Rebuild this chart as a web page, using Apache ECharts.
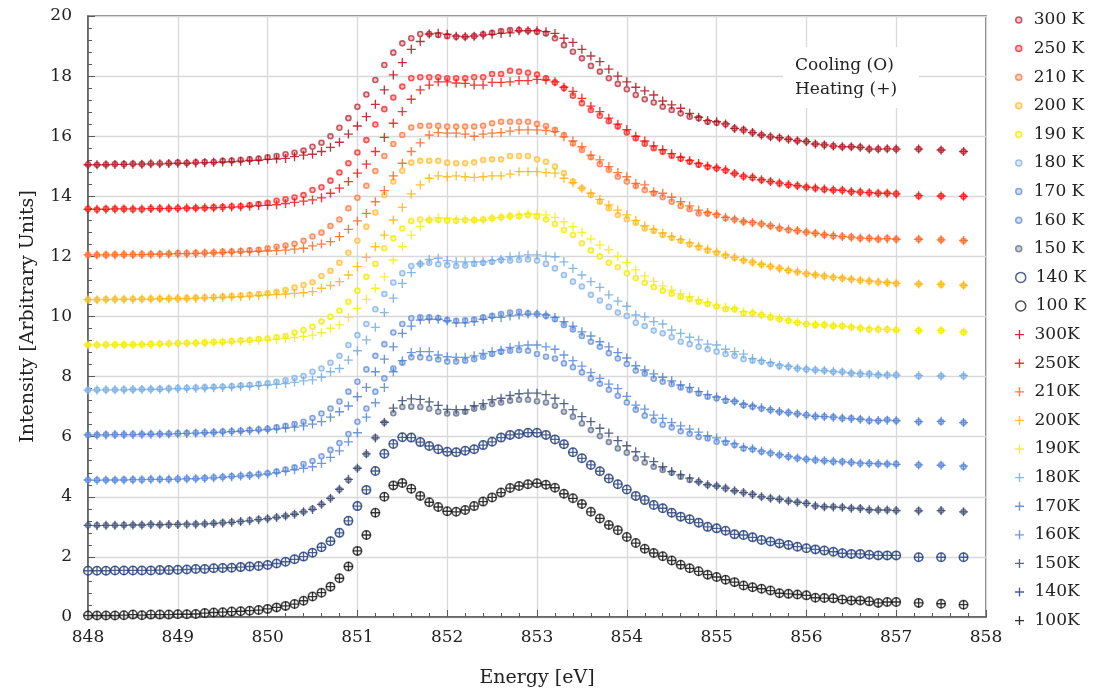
<!DOCTYPE html>
<html>
<head>
<meta charset="utf-8">
<script src="https://cdn.jsdelivr.net/npm/echarts@6/dist/echarts.min.js"></script>
<style>
  html, body { margin: 0; padding: 0; background: #ffffff; }
  #chart { width: 1103px; height: 696px; }
</style>
</head>
<body>
<div id="chart"></div>
<script>
// Photon energy of every measured point [eV]
const energy = [
  848.0,848.1,848.2,848.3,848.4,848.5,848.6,848.7,848.8,848.9,
  849.0,849.1,849.2,849.3,849.4,849.5,849.6,849.7,849.8,849.9,
  850.0,850.1,850.2,850.3,850.4,850.5,850.6,850.7,850.8,850.9,
  851.0,851.1,851.2,851.3,851.4,851.5,851.6,851.7,851.8,851.9,
  852.0,852.1,852.2,852.3,852.4,852.5,852.6,852.7,852.8,852.9,
  853.0,853.1,853.2,853.3,853.4,853.5,853.6,853.7,853.8,853.9,
  854.0,854.1,854.2,854.3,854.4,854.5,854.6,854.7,854.8,854.9,
  855.0,855.1,855.2,855.3,855.4,855.5,855.6,855.7,855.8,855.9,
  856.0,856.1,856.2,856.3,856.4,856.5,856.6,856.7,856.8,856.9,
  857.0,857.25,857.5,857.75
];

// Cooling run (spectra stacked with a 1.5 offset per temperature)
const cool300 = [
  15.06,15.05,15.06,15.07,15.07,15.08,15.07,15.09,15.09,15.10,
  15.12,15.11,15.13,15.14,15.14,15.18,15.19,15.21,15.23,15.26,
  15.30,15.34,15.40,15.45,15.52,15.65,15.78,16.00,16.28,16.60,
  16.98,17.39,17.87,18.37,18.78,19.09,19.26,19.40,19.40,19.37,
  19.33,19.31,19.31,19.33,19.39,19.44,19.50,19.53,19.53,19.51,
  19.48,19.42,19.26,19.03,18.81,18.59,18.34,18.15,17.93,17.74,
  17.56,17.37,17.23,17.12,16.98,16.87,16.76,16.65,16.60,16.48,
  16.45,16.40,16.26,16.21,16.12,16.04,15.98,15.95,15.90,15.85,
  15.82,15.74,15.71,15.67,15.65,15.65,15.63,15.57,15.57,15.58,
  15.57,15.57,15.54,15.49];
const cool250 = [
  13.58,13.56,13.58,13.58,13.58,13.57,13.57,13.59,13.59,13.59,
  13.60,13.60,13.61,13.61,13.63,13.64,13.66,13.67,13.70,13.74,
  13.78,13.85,13.90,13.96,14.04,14.21,14.30,14.52,14.79,15.10,
  15.46,15.87,16.39,16.90,17.29,17.65,17.93,17.96,17.96,17.96,
  17.93,17.93,17.93,17.96,17.96,18.07,18.07,18.18,18.15,18.11,
  18.05,17.93,17.79,17.60,17.35,17.10,16.87,16.68,16.50,16.32,
  16.12,15.93,15.75,15.60,15.48,15.35,15.25,15.15,15.05,14.98,
  14.93,14.86,14.76,14.66,14.62,14.54,14.49,14.43,14.38,14.35,
  14.30,14.27,14.23,14.21,14.20,14.15,14.14,14.12,14.10,14.10,
  14.08,14.01,14.01,13.99];
const cool210 = [
  12.05,12.05,12.05,12.06,12.06,12.06,12.07,12.07,12.08,12.09,
  12.10,12.10,12.11,12.12,12.13,12.15,12.16,12.18,12.20,12.22,
  12.27,12.32,12.36,12.42,12.52,12.66,12.79,13.01,13.23,13.60,
  13.95,14.35,14.84,15.34,15.74,16.04,16.29,16.35,16.35,16.35,
  16.32,16.32,16.32,16.32,16.35,16.43,16.48,16.48,16.48,16.48,
  16.41,16.34,16.21,16.04,15.76,15.54,15.30,15.07,14.88,14.65,
  14.49,14.34,14.21,14.10,13.97,13.82,13.68,13.57,13.43,13.43,
  13.38,13.27,13.23,13.15,13.12,13.08,13.01,12.93,12.88,12.85,
  12.80,12.77,12.71,12.68,12.66,12.64,12.60,12.60,12.57,12.60,
  12.57,12.57,12.55,12.52];
const cool200 = [
  10.56,10.56,10.57,10.57,10.57,10.58,10.58,10.59,10.59,10.60,
  10.60,10.61,10.62,10.63,10.64,10.66,10.68,10.70,10.72,10.75,
  10.77,10.82,10.88,10.96,11.05,11.14,11.35,11.52,11.79,12.12,
  12.52,12.99,13.46,14.04,14.49,14.85,15.12,15.18,15.18,15.18,
  15.12,15.10,15.10,15.13,15.21,15.23,15.23,15.34,15.34,15.34,
  15.23,15.15,14.99,14.77,14.49,14.27,14.04,13.82,13.60,13.38,
  13.24,13.12,12.93,12.85,12.71,12.62,12.52,12.40,12.30,12.20,
  12.12,12.02,11.95,11.86,11.80,11.72,11.66,11.60,11.53,11.48,
  11.42,11.38,11.34,11.30,11.27,11.24,11.20,11.17,11.14,11.12,
  11.10,11.08,11.06,11.03];
const cool190 = [
  9.05,9.05,9.06,9.06,9.06,9.07,9.07,9.08,9.09,9.10,
  9.11,9.12,9.12,9.13,9.15,9.16,9.18,9.20,9.22,9.25,
  9.27,9.31,9.35,9.46,9.55,9.66,9.83,9.99,10.19,10.49,
  10.86,11.32,11.75,12.27,12.60,12.93,13.18,13.23,13.21,13.21,
  13.19,13.19,13.21,13.21,13.23,13.27,13.30,13.34,13.34,13.38,
  13.32,13.23,13.08,12.88,12.71,12.44,12.20,12.00,11.79,11.64,
  11.44,11.28,11.12,10.98,10.86,10.76,10.66,10.57,10.49,10.42,
  10.33,10.24,10.24,10.11,10.11,10.05,9.97,9.91,9.86,9.79,
  9.75,9.72,9.72,9.68,9.68,9.64,9.61,9.57,9.57,9.57,
  9.55,9.53,9.53,9.48];
const cool180 = [
  7.55,7.56,7.56,7.56,7.57,7.57,7.58,7.58,7.59,7.60,
  7.61,7.62,7.63,7.64,7.65,7.66,7.68,7.70,7.72,7.75,
  7.78,7.83,7.88,7.95,8.02,8.16,8.27,8.46,8.69,9.05,
  9.38,9.75,10.24,10.75,11.13,11.44,11.68,11.75,11.79,11.74,
  11.71,11.68,11.70,11.75,11.79,11.82,11.88,11.86,11.88,11.90,
  11.86,11.75,11.60,11.38,11.16,11.00,10.72,10.53,10.32,10.13,
  10.02,9.79,9.68,9.53,9.44,9.31,9.16,9.08,8.99,8.91,
  8.83,8.75,8.69,8.58,8.53,8.50,8.42,8.35,8.33,8.27,
  8.24,8.22,8.20,8.16,8.16,8.11,8.09,8.09,8.05,8.05,
  8.05,8.02,8.02,8.02];
const cool170 = [
  6.06,6.06,6.07,6.07,6.07,6.08,6.08,6.09,6.09,6.10,
  6.11,6.12,6.13,6.14,6.15,6.17,6.18,6.20,6.22,6.24,
  6.26,6.31,6.36,6.42,6.50,6.62,6.77,6.94,7.17,7.50,
  7.83,8.24,8.69,9.08,9.47,9.75,9.94,9.97,9.97,9.95,
  9.88,9.86,9.87,9.90,9.97,10.02,10.08,10.13,10.16,10.11,
  10.08,10.02,9.91,9.72,9.57,9.35,9.16,8.99,8.78,8.60,
  8.42,8.20,8.10,7.93,7.83,7.75,7.64,7.55,7.44,7.33,
  7.28,7.20,7.17,7.05,7.00,6.94,6.89,6.83,6.80,6.76,
  6.72,6.67,6.67,6.65,6.61,6.61,6.58,6.53,6.53,6.56,
  6.53,6.50,6.50,6.47];
const cool160 = [
  4.56,4.56,4.56,4.56,4.57,4.57,4.57,4.58,4.58,4.58,
  4.59,4.60,4.61,4.62,4.64,4.66,4.68,4.70,4.72,4.75,
  4.78,4.84,4.91,4.98,5.09,5.19,5.35,5.56,5.79,6.09,
  6.50,6.94,7.50,7.94,8.27,8.46,8.64,8.64,8.61,8.57,
  8.50,8.50,8.53,8.58,8.66,8.75,8.83,8.86,8.88,8.86,
  8.75,8.66,8.60,8.44,8.31,8.14,7.94,7.76,7.56,7.36,
  7.14,6.90,6.70,6.54,6.40,6.31,6.18,6.10,5.99,5.94,
  5.83,5.80,5.72,5.61,5.58,5.50,5.45,5.39,5.33,5.28,
  5.25,5.22,5.20,5.17,5.17,5.14,5.11,5.11,5.09,5.09,
  5.09,5.06,5.06,5.00];
const cool150 = [
  3.05,3.05,3.05,3.05,3.06,3.06,3.06,3.08,3.07,3.07,
  3.08,3.08,3.09,3.10,3.12,3.14,3.16,3.18,3.22,3.25,
  3.28,3.32,3.36,3.43,3.50,3.60,3.75,3.95,4.24,4.56,
  4.95,5.42,5.97,6.47,6.78,6.99,7.00,6.99,6.93,6.83,
  6.77,6.77,6.83,6.93,6.98,7.09,7.14,7.20,7.23,7.23,
  7.18,7.14,7.03,6.83,6.66,6.44,6.22,6.02,5.82,5.61,
  5.47,5.28,5.14,5.00,4.89,4.80,4.67,4.56,4.50,4.39,
  4.36,4.28,4.20,4.14,4.08,4.00,3.95,3.92,3.86,3.82,
  3.78,3.69,3.67,3.67,3.65,3.62,3.62,3.56,3.56,3.56,
  3.54,3.54,3.54,3.50];
const cool140 = [
  1.54,1.54,1.54,1.55,1.55,1.55,1.55,1.55,1.56,1.56,
  1.57,1.58,1.60,1.60,1.62,1.63,1.64,1.66,1.68,1.70,
  1.73,1.78,1.84,1.92,2.01,2.14,2.32,2.52,2.80,3.20,
  3.69,4.23,4.86,5.43,5.76,5.98,5.97,5.82,5.69,5.58,
  5.50,5.48,5.53,5.58,5.72,5.83,5.97,6.06,6.09,6.13,
  6.13,6.06,5.91,5.75,5.48,5.28,5.06,4.85,4.61,4.42,
  4.24,4.03,3.89,3.73,3.62,3.47,3.34,3.25,3.14,3.00,
  2.95,2.87,2.75,2.73,2.65,2.56,2.51,2.45,2.40,2.34,
  2.29,2.25,2.21,2.17,2.12,2.10,2.10,2.07,2.05,2.05,
  2.05,1.99,1.99,1.99];
const cool100 = [
  0.05,0.05,0.05,0.05,0.06,0.08,0.06,0.08,0.08,0.08,
  0.09,0.09,0.10,0.13,0.15,0.16,0.18,0.19,0.21,0.23,
  0.27,0.32,0.37,0.43,0.54,0.68,0.81,1.01,1.29,1.68,
  2.20,2.73,3.47,4.00,4.38,4.46,4.27,4.03,3.82,3.66,
  3.52,3.50,3.56,3.69,3.84,3.98,4.14,4.29,4.36,4.42,
  4.45,4.40,4.30,4.10,3.95,3.76,3.50,3.28,3.06,2.89,
  2.66,2.46,2.27,2.13,2.02,1.88,1.74,1.62,1.52,1.41,
  1.33,1.24,1.16,1.05,0.99,0.94,0.88,0.79,0.77,0.75,
  0.72,0.64,0.63,0.62,0.58,0.55,0.55,0.52,0.47,0.50,
  0.50,0.47,0.44,0.41];

// Heating run
const heat300 = [
  15.05,15.05,15.05,15.06,15.06,15.07,15.07,15.08,15.08,15.09,
  15.10,15.10,15.11,15.12,15.13,15.14,15.15,15.17,15.19,15.20,
  15.23,15.24,15.26,15.32,15.37,15.40,15.49,15.63,15.80,16.07,
  16.34,16.65,17.06,17.54,18.04,18.45,18.89,19.15,19.40,19.43,
  19.39,19.33,19.31,19.33,19.37,19.39,19.42,19.44,19.51,19.51,
  19.51,19.48,19.42,19.26,19.12,18.89,18.67,18.48,18.23,18.00,
  17.81,17.63,17.51,17.37,17.17,17.04,16.93,16.76,16.63,16.52,
  16.48,16.41,16.26,16.21,16.12,16.04,15.98,15.95,15.90,15.85,
  15.82,15.74,15.71,15.67,15.65,15.65,15.63,15.57,15.57,15.58,
  15.57,15.57,15.54,15.49];
const heat250 = [
  13.57,13.57,13.57,13.58,13.58,13.58,13.58,13.59,13.59,13.60,
  13.60,13.61,13.61,13.62,13.62,13.63,13.64,13.65,13.67,13.69,
  13.70,13.72,13.76,13.80,13.84,13.88,13.95,14.10,14.27,14.49,
  14.77,15.07,15.49,15.96,16.43,16.82,17.23,17.54,17.70,17.81,
  17.81,17.77,17.76,17.70,17.70,17.79,17.79,17.81,17.85,17.85,
  17.89,17.87,17.81,17.63,17.49,17.26,17.00,16.82,16.60,16.40,
  16.22,16.00,15.84,15.68,15.55,15.42,15.30,15.19,15.09,15.01,
  14.95,14.88,14.76,14.67,14.63,14.55,14.49,14.44,14.39,14.35,
  14.31,14.28,14.24,14.21,14.20,14.16,14.14,14.12,14.10,14.10,
  14.08,14.02,14.01,14.00];
const heat210 = [
  12.05,12.05,12.05,12.05,12.06,12.06,12.06,12.07,12.07,12.08,
  12.09,12.09,12.10,12.11,12.12,12.13,12.14,12.15,12.16,12.17,
  12.18,12.19,12.21,12.24,12.27,12.35,12.41,12.49,12.66,12.90,
  13.18,13.43,13.82,14.19,14.68,15.10,15.49,15.78,16.04,16.12,
  16.10,16.10,16.07,16.00,16.07,16.10,16.12,16.17,16.21,16.21,
  16.21,16.19,16.15,15.98,15.84,15.65,15.37,15.21,14.99,14.79,
  14.65,14.43,14.38,14.15,14.10,13.97,13.82,13.68,13.54,13.46,
  13.40,13.30,13.24,13.16,13.13,13.08,13.02,12.95,12.90,12.86,
  12.81,12.77,12.72,12.69,12.66,12.64,12.61,12.60,12.58,12.59,
  12.57,12.57,12.55,12.53];
const heat200 = [
  10.56,10.56,10.56,10.57,10.57,10.57,10.58,10.58,10.59,10.59,
  10.60,10.60,10.61,10.62,10.63,10.64,10.65,10.66,10.68,10.70,
  10.72,10.73,10.75,10.77,10.79,10.83,10.94,11.03,11.16,11.38,
  11.66,11.97,12.32,12.71,13.21,13.63,14.08,14.38,14.60,14.68,
  14.65,14.68,14.65,14.63,14.65,14.68,14.68,14.74,14.82,14.82,
  14.82,14.79,14.77,14.60,14.45,14.27,14.10,13.90,13.71,13.54,
  13.38,13.20,13.02,12.90,12.78,12.66,12.56,12.45,12.34,12.24,
  12.15,12.05,11.97,11.88,11.81,11.74,11.67,11.60,11.54,11.49,
  11.43,11.39,11.35,11.31,11.28,11.24,11.21,11.18,11.15,11.13,
  11.11,11.08,11.07,11.04];
const heat190 = [
  9.05,9.05,9.05,9.06,9.06,9.06,9.07,9.07,9.08,9.09,
  9.10,9.10,9.11,9.12,9.13,9.14,9.16,9.17,9.19,9.20,
  9.22,9.24,9.27,9.30,9.34,9.38,9.46,9.61,9.72,9.97,
  10.27,10.57,10.94,11.32,11.88,12.32,12.71,13.00,13.22,13.29,
  13.27,13.23,13.23,13.21,13.21,13.27,13.30,13.34,13.38,13.41,
  13.41,13.38,13.30,13.15,12.99,12.80,12.58,12.38,12.22,12.01,
  11.80,11.55,11.35,11.17,11.02,10.88,10.76,10.66,10.55,10.46,
  10.38,10.30,10.26,10.16,10.12,10.06,9.99,9.93,9.88,9.81,
  9.76,9.73,9.72,9.69,9.68,9.65,9.62,9.59,9.58,9.57,
  9.55,9.53,9.54,9.49];
const heat180 = [
  7.55,7.55,7.56,7.56,7.56,7.57,7.57,7.58,7.58,7.59,
  7.60,7.60,7.61,7.62,7.63,7.64,7.65,7.67,7.68,7.70,
  7.72,7.74,7.77,7.81,7.86,7.89,7.98,8.16,8.27,8.55,
  8.86,9.22,9.64,10.13,10.61,11.10,11.46,11.75,11.90,11.94,
  11.86,11.82,11.82,11.82,11.82,11.86,11.90,11.99,12.01,12.05,
  12.05,12.01,11.99,11.82,11.60,11.38,11.16,10.97,10.72,10.51,
  10.34,10.05,9.99,9.83,9.75,9.55,9.44,9.31,9.22,9.08,
  9.05,8.91,8.83,8.75,8.60,8.53,8.46,8.38,8.34,8.28,
  8.25,8.22,8.20,8.17,8.15,8.12,8.10,8.08,8.06,8.05,
  8.05,8.03,8.02,8.03];
const heat170 = [
  6.06,6.06,6.06,6.07,6.07,6.07,6.08,6.08,6.09,6.09,
  6.10,6.11,6.12,6.13,6.14,6.15,6.17,6.18,6.20,6.22,
  6.24,6.26,6.29,6.32,6.36,6.42,6.50,6.65,6.83,7.02,
  7.33,7.64,8.16,8.58,8.99,9.44,9.68,9.88,9.91,9.91,
  9.86,9.79,9.79,9.83,9.91,9.97,9.97,10.02,10.05,10.08,
  10.08,10.05,9.97,9.83,9.68,9.49,9.35,9.16,8.99,8.80,
  8.62,8.36,8.22,8.09,7.98,7.86,7.72,7.64,7.50,7.40,
  7.32,7.24,7.18,7.08,7.02,6.96,6.90,6.84,6.80,6.76,
  6.72,6.68,6.67,6.65,6.62,6.60,6.58,6.55,6.54,6.55,
  6.53,6.50,6.51,6.47];
const heat160 = [
  4.56,4.55,4.56,4.56,4.56,4.57,4.57,4.58,4.58,4.58,
  4.59,4.60,4.60,4.62,4.63,4.65,4.67,4.69,4.71,4.73,
  4.76,4.80,4.85,4.90,4.95,5.00,5.11,5.31,5.53,5.83,
  6.13,6.65,7.13,7.64,8.16,8.53,8.80,8.83,8.83,8.72,
  8.66,8.64,8.64,8.69,8.77,8.83,8.88,8.97,9.02,9.05,
  9.05,8.99,8.91,8.72,8.53,8.35,8.13,7.94,7.75,7.60,
  7.34,7.05,6.92,6.72,6.61,6.47,6.36,6.25,6.15,6.03,
  5.96,5.85,5.76,5.65,5.60,5.52,5.46,5.40,5.34,5.29,
  5.25,5.23,5.20,5.18,5.16,5.14,5.12,5.11,5.10,5.09,
  5.08,5.06,5.05,5.02];
const heat150 = [
  3.05,3.04,3.05,3.05,3.05,3.06,3.06,3.08,3.07,3.08,
  3.08,3.09,3.09,3.10,3.11,3.13,3.15,3.18,3.20,3.24,
  3.27,3.31,3.36,3.42,3.50,3.58,3.75,3.95,4.25,4.58,
  4.95,5.43,5.96,6.48,6.95,7.20,7.26,7.24,7.16,7.04,
  6.91,6.90,6.90,7.03,7.10,7.23,7.28,7.37,7.43,7.45,
  7.45,7.40,7.28,7.10,6.90,6.67,6.50,6.28,6.12,5.87,
  5.70,5.50,5.33,5.17,5.00,4.84,4.73,4.62,4.50,4.40,
  4.36,4.29,4.20,4.14,4.08,4.00,3.95,3.92,3.86,3.82,
  3.78,3.70,3.67,3.66,3.65,3.62,3.61,3.57,3.56,3.56,
  3.54,3.53,3.54,3.50];
const heat140 = [
  1.54,1.54,1.54,1.55,1.55,1.55,1.55,1.55,1.56,1.56,
  1.57,1.58,1.60,1.60,1.62,1.63,1.64,1.66,1.68,1.70,
  1.73,1.78,1.84,1.92,2.01,2.14,2.32,2.52,2.80,3.20,
  3.69,4.23,4.86,5.43,5.76,5.98,5.97,5.82,5.69,5.58,
  5.50,5.48,5.53,5.58,5.72,5.83,5.97,6.06,6.09,6.13,
  6.13,6.06,5.91,5.75,5.48,5.28,5.06,4.85,4.61,4.42,
  4.24,4.03,3.89,3.73,3.62,3.47,3.34,3.25,3.14,3.00,
  2.95,2.87,2.75,2.73,2.65,2.56,2.51,2.45,2.40,2.34,
  2.29,2.25,2.21,2.17,2.12,2.10,2.10,2.07,2.05,2.05,
  2.05,1.99,1.99,1.99];
const heat100 = [
  0.05,0.05,0.05,0.05,0.06,0.08,0.06,0.08,0.08,0.08,
  0.09,0.09,0.10,0.13,0.15,0.16,0.18,0.19,0.21,0.23,
  0.27,0.32,0.37,0.43,0.54,0.68,0.81,1.01,1.29,1.68,
  2.20,2.73,3.47,4.00,4.38,4.46,4.27,4.03,3.82,3.66,
  3.52,3.50,3.56,3.69,3.84,3.98,4.14,4.29,4.36,4.42,
  4.45,4.40,4.30,4.10,3.95,3.76,3.50,3.28,3.06,2.89,
  2.66,2.46,2.27,2.13,2.02,1.88,1.74,1.62,1.52,1.41,
  1.33,1.24,1.16,1.05,0.99,0.94,0.88,0.79,0.77,0.75,
  0.72,0.64,0.63,0.62,0.58,0.55,0.55,0.52,0.47,0.50,
  0.50,0.47,0.44,0.41];

const coolNames = ['300 K','250 K','210 K','200 K','190 K','180 K','170 K','160 K','150 K','140 K','100 K'];
const heatNames = ['300K','250K','210K','200K','190K','180K','170K','160K','150K','140K','100K'];
const coolValues = [cool300, cool250, cool210, cool200, cool190, cool180, cool170, cool160, cool150, cool140, cool100];
const heatValues = [heat300, heat250, heat210, heat200, heat190, heat180, heat170, heat160, heat150, heat140, heat100];

// Marker styling
const coolRing = ['#b8323e','#ff2a2a','#ff7a45','#ffbf3a','#f5e800','#86b4e6','#6690da','#6690da','#66728e','#1d3a78','#222222'];
const coolFill = ['#eebcc0','#ffb0b0','#ffc6ae','#ffe4a6','#fffa9c','#d3e4f6','#c9d7f3','#c9d7f3','#bcc2d0','#ffffff','#ffffff'];
const heatColor = ['#b0000e','#ff0000','#ff5a12','#ffb000','#f2ec00','#6aa6de','#4677cc','#4a7fd8','#2c3f66','#1f3a78','#000000'];
const PLUS = 'path://M4.25,0H5.75V4.25H10V5.75H5.75V10H4.25V5.75H0V4.25H4.25Z';
const FONT = 'DejaVu Serif';

const pairs = vals => energy.map((e, i) => [e, vals[i]]);

const series = [];
coolNames.forEach((name, i) => {
  const big = i >= 9;
  series.push({
    name, type: 'scatter', data: pairs(coolValues[i]),
    symbol: 'circle', symbolSize: big ? 8.5 : 5,
    itemStyle: { color: coolFill[i], borderColor: coolRing[i], borderWidth: big ? 1.5 : 1.6 },
    emphasis: { disabled: true }, z: 2
  });
});
heatNames.forEach((name, i) => {
  series.push({
    name, type: 'scatter', data: pairs(heatValues[i]),
    symbol: PLUS, symbolSize: 9,
    itemStyle: { color: heatColor[i] },
    emphasis: { disabled: true }, z: 3
  });
});

const step = 28.6;
const legendBase = {
  orient: 'vertical', left: 1015, padding: 0,
  itemWidth: 20, itemGap: step - 20,
  selectedMode: false,
  textStyle: { fontFamily: FONT, fontSize: 17, color: '#222', lineHeight: 20 }
};
const legends = [
  Object.assign({}, legendBase, {
    top: 10, itemHeight: 6,
    data: coolNames.slice(0, 9).map((n, i) => ({ name: n, icon: 'circle',
      itemStyle: { color: coolFill[i], borderColor: coolRing[i], borderWidth: 1.5 } }))
  }),
  Object.assign({}, legendBase, {
    top: 10 + 9 * step, itemHeight: 10,
    data: coolNames.slice(9).map((n, k) => ({ name: n, icon: 'circle',
      itemStyle: { color: '#fff', borderColor: coolRing[9 + k], borderWidth: 1.5 } }))
  }),
  Object.assign({}, legendBase, {
    top: 10 + 11 * step, itemHeight: 9,
    data: heatNames.map((n, i) => ({ name: n, icon: PLUS,
      itemStyle: { color: heatColor[i], borderWidth: 0 } }))
  })
];

const axisText = { fontFamily: FONT, fontSize: 17, color: '#222' };
const option = {
  animation: false,
  backgroundColor: '#ffffff',
  grid: { left: 88, right: 117, top: 16, bottom: 79, show: true,
          borderColor: '#5a5a5a', borderWidth: 1.5, backgroundColor: 'transparent' },
  legend: legends,
  xAxis: {
    type: 'value', min: 848, max: 858, interval: 1,
    name: 'Energy [eV]', nameLocation: 'middle', nameGap: 52,
    nameTextStyle: { fontFamily: FONT, fontSize: 19, color: '#222' },
    axisLine: { lineStyle: { color: '#5a5a5a', width: 1.5 } },
    axisTick: { inside: true, length: 7, lineStyle: { color: '#5a5a5a' } },
    minorTick: { show: true, splitNumber: 5, length: 4, lineStyle: { color: '#5a5a5a' } },
    splitLine: { show: true, lineStyle: { color: '#d9d9d9', width: 1.3 } },
    axisLabel: Object.assign({ margin: 12 }, axisText)
  },
  yAxis: {
    type: 'value', min: 0, max: 20, interval: 2,
    name: 'Intensity [Arbitrary Units]', nameLocation: 'middle', nameGap: 50,
    nameTextStyle: { fontFamily: FONT, fontSize: 19, color: '#222' },
    axisLine: { show: true, lineStyle: { color: '#5a5a5a', width: 1.5 } },
    axisTick: { show: true, inside: true, length: 7, lineStyle: { color: '#5a5a5a' } },
    minorTick: { show: true, splitNumber: 5, length: 4, lineStyle: { color: '#5a5a5a' } },
    splitLine: { show: true, lineStyle: { color: '#d9d9d9', width: 1.3 } },
    axisLabel: Object.assign({ margin: 16 }, axisText)
  },
  graphic: [{
    type: 'text', left: 783, top: 47, z: 50,
    style: {
      text: 'Cooling (O)\nHeating (+)',
      font: '17px "DejaVu Serif"', fill: '#222', lineHeight: 24,
      backgroundColor: '#ffffff', padding: [7, 22, 6, 12]
    }
  }],
  series
};

const chart = echarts.init(document.getElementById('chart'));
chart.setOption(option);
</script>
</body>
</html>
